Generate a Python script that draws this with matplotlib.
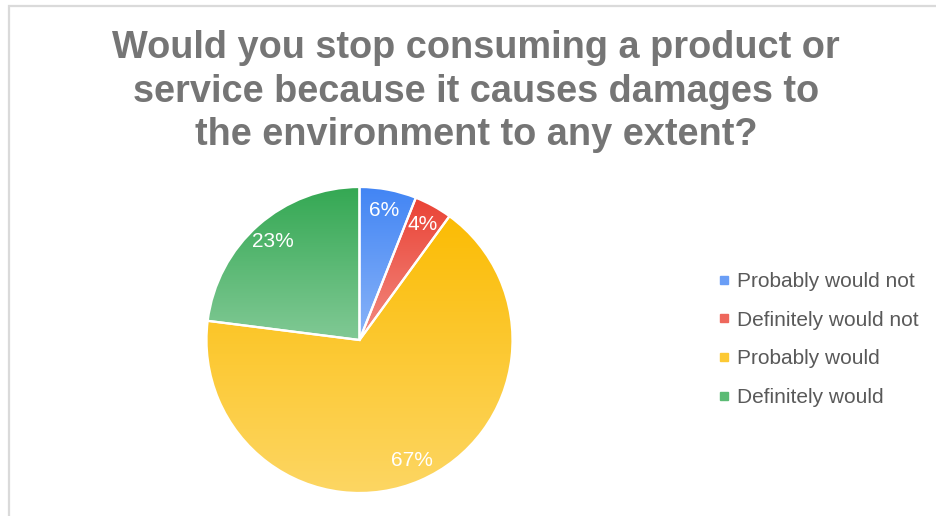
import matplotlib.pyplot as plt
import numpy as np
from matplotlib.colors import LinearSegmentedColormap
from matplotlib.lines import Line2D
from matplotlib.patches import Rectangle

plt.rcParams['font.family'] = ['Liberation Sans', 'DejaVu Sans']

# データ
labels = ["Probably would not", "Definitely would not", "Probably would", "Definitely would"]
values = [6, 4, 67, 23]
top_colors = ["#4285F4", "#EA4335", "#FBBC04", "#34A853"]
bottom_colors = ["#8AB4F8", "#F28B82", "#FDD663", "#81C995"]
mid_colors = ["#6A9EF6", "#EE675C", "#FCC934", "#5BBB74"]
title = "Would you stop consuming a product or\nservice because it causes damages to\nthe environment to any extent?"

W, H = 937, 516
fig = plt.figure(figsize=(W / 100, H / 100), dpi=100)

# 枠線
fig.patches.append(Rectangle((9.5 / W, -0.1), 1.2, (1 - 5.5 / H) + 0.1, transform=fig.transFigure,
                             fill=False, edgecolor="#DADADA", linewidth=1.6))

fig.text(476 / W, 1 - 91.5 / H, title, ha="center", va="center", fontsize=27.3,
         fontweight="bold", color="#757575", linespacing=1.28)

# パイの位置(ピクセル指定)
cx, cy, r = 359.5, 340, 153
ax = fig.add_axes([(cx - r) / W, (H - cy - r) / H, 2 * r / W, 2 * r / H])
wedges, texts, autotexts = ax.pie(values, startangle=90, counterclock=False,
                                  autopct=lambda p: "%d%%" % round(p), pctdistance=0.86,
                                  wedgeprops=dict(edgecolor="white", linewidth=1.6),
                                  textprops=dict(color="white", fontsize=15))
ax.axis("off")

# 各扇形に縦方向のグラデーション
grad = np.linspace(0, 1, 256).reshape(-1, 1)
for w, c0, c1 in zip(wedges, top_colors, bottom_colors):
    bb = w.get_path().get_extents()
    cmap = LinearSegmentedColormap.from_list("g", [c0, c1])
    im = ax.imshow(grad, cmap=cmap, extent=[bb.x0, bb.x1, bb.y0, bb.y1], origin="upper",
                   aspect="auto", zorder=0.5, interpolation="bilinear")
    im.set_clip_path(w)
    w.set_facecolor("none")
    w.set_zorder(1)
for t in autotexts:
    t.set_zorder(3)
ax.set_xlim(-1, 1)
ax.set_ylim(-1, 1)

handles = [Line2D([], [], marker="s", linestyle="none", markersize=5.5, color=c) for c in mid_colors]
fig.legend(handles, labels, loc="center left", bbox_to_anchor=(707 / W, 1 - 339.5 / H),
           frameon=False, fontsize=15, labelcolor="#595959", handlelength=0.6,
           handletextpad=0.35, labelspacing=0.95, borderpad=0)

plt.savefig("out.png", dpi=100)
